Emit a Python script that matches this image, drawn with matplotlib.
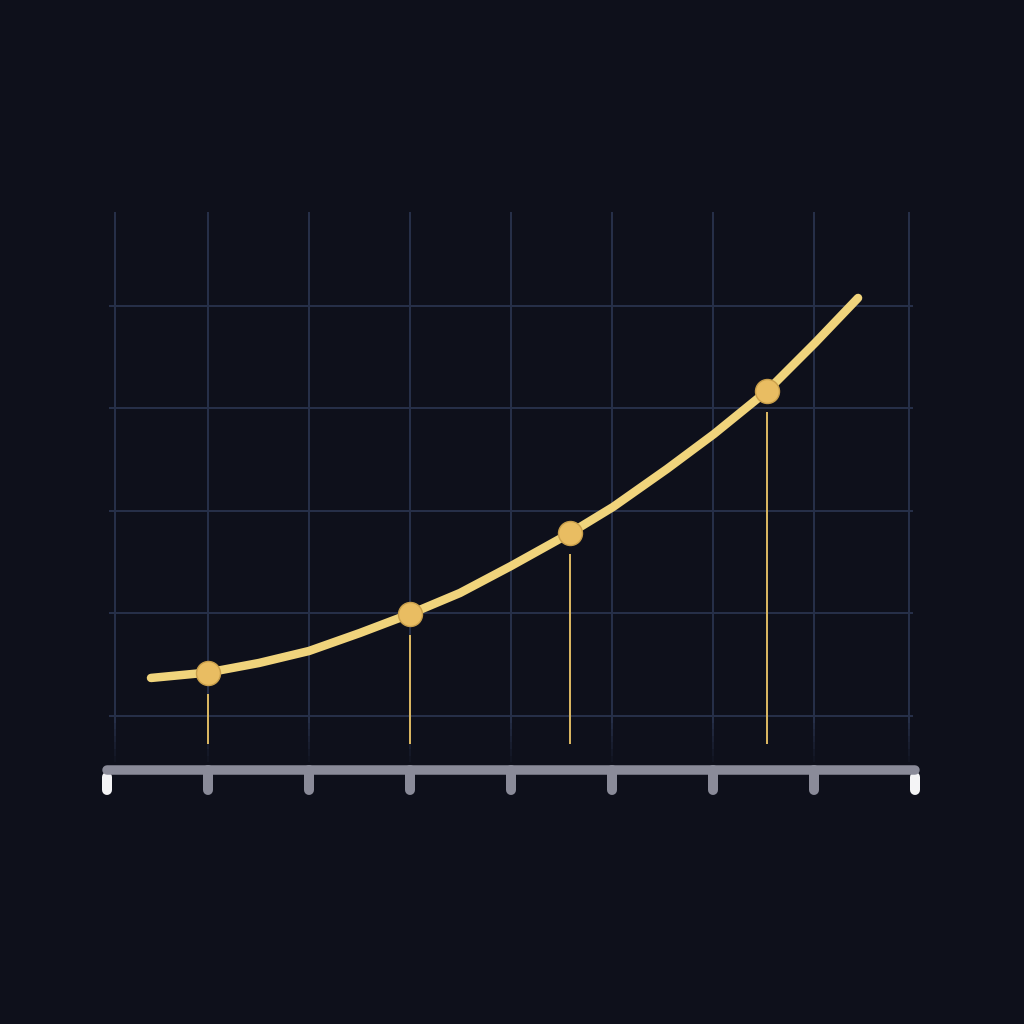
import matplotlib
matplotlib.use('Agg')
import matplotlib.pyplot as plt
import numpy as np

# ---------------------------------------------------------------------------
# Data
# ---------------------------------------------------------------------------
CURVE_X = [0.436, 1.000, 1.505, 2.000, 2.505, 3.000, 3.495, 4.000,
           4.584, 5.010, 5.545, 6.010, 6.535, 7.010, 7.436]
CURVE_Y = [1.371, 1.424, 1.517, 1.634, 1.810, 1.995, 2.200, 2.463,
           2.783, 3.039, 3.410, 3.751, 4.171, 4.639, 5.078]

POINT_X = [1.000, 3.000, 4.584, 6.535]
POINT_Y = [1.424, 1.995, 2.783, 4.171]

TICK_X  = [1, 2, 3, 4, 5, 6, 7]
END_X   = [0, 8]
GRID_X  = [0.08, 1, 2, 3, 4, 5, 6, 7, 7.94]
GRID_Y  = [1, 2, 3, 4, 5]

# ---------------------------------------------------------------------------
# Style
# ---------------------------------------------------------------------------
BG      = '#0e101b'
GRID    = '#262f48'
CURVE   = '#f0d47c'
MARKER  = '#e9bd62'
STEM    = '#d8b561'
AXIS    = '#8a8b99'
PX      = 72 / 100          # one pixel in points at dpi=100

fig = plt.figure(figsize=(10.24, 10.24), dpi=100, facecolor=BG)
ax = fig.add_axes([0, 0, 1, 1])
ax.set_facecolor(BG)
ax.set_xlim(-1.059, 9.079)
ax.set_ylim(-2.005, 7.985)
ax.axis('off')

# grid: vertical lines fade out towards the axis bar
for gx in GRID_X:
    ax.plot([gx, gx], [1.0, 5.92], color=GRID, lw=2 * PX, zorder=1,
            solid_capstyle='butt')
    fade = np.linspace(1.0, 0.55, 8)
    for k in range(len(fade) - 1):
        ax.plot([gx, gx], [fade[k], fade[k + 1]], color=GRID,
                lw=2 * PX, alpha=1 - k / 7, zorder=1, solid_capstyle='butt')
for gy in GRID_Y:
    ax.plot([0.02, 7.98], [gy, gy], color=GRID, lw=2 * PX, zorder=1,
            solid_capstyle='butt')

# stems under the points
for px_, py_ in zip(POINT_X, POINT_Y):
    ax.plot([px_, px_], [0.74, py_ - 0.215], color=STEM, lw=2 * PX, zorder=2)

# curve + points
ax.plot(CURVE_X, CURVE_Y, color=CURVE, lw=8.5 * PX, zorder=3,
        solid_capstyle='round', solid_joinstyle='round')
ax.plot(POINT_X, POINT_Y, 'o', ms=24 * PX, color=MARKER,
        mec='#c99f4b', mew=1, zorder=4)

# x axis bar with ticks
ax.plot([0.0, 8.0], [0.47, 0.47], color=AXIS, lw=9.5 * PX, zorder=6,
        solid_capstyle='round')
for tx in TICK_X:
    ax.plot([tx, tx], [0.47, 0.28], color=AXIS, lw=10 * PX, zorder=5,
            solid_capstyle='round')
for ex in END_X:
    ax.plot([ex, ex], [0.40, 0.28], color='#f4f4f6', lw=10 * PX, zorder=5,
            solid_capstyle='round')

fig.savefig('out.png', dpi=100, facecolor=BG)
